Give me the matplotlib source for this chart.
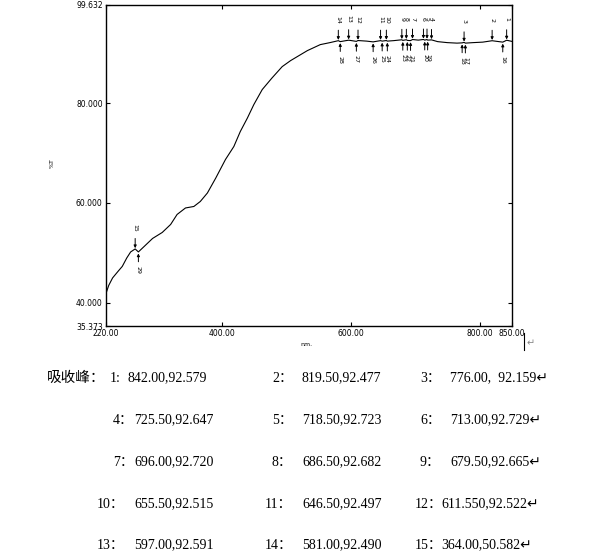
import numpy as np
import matplotlib
matplotlib.use("Agg")
import matplotlib.pyplot as plt

# spectrum (nm, %T)
wavelength = [220, 225, 231, 240, 246, 253, 259, 266, 271, 280, 293, 308, 321, 331,
              344, 357, 367, 378, 391, 406, 419, 429, 440, 450, 463, 478, 494, 507,
              520, 533, 553, 568, 581, 584, 597, 609, 611.5, 625, 635, 646.5, 649,
              655.5, 657, 667, 679.5, 681, 686.5, 688, 693, 696, 705, 713, 715,
              718.5, 719.5, 725.5, 735, 750, 765, 773, 776, 778, 790, 805, 819.5,
              830, 836, 842, 850]
transmit = [41.6, 43.5, 45.0, 46.4, 47.3, 49.0, 50.2, 50.8, 50.2, 51.3, 52.9, 54.1,
            55.7, 57.7, 59.0, 59.3, 60.3, 62.0, 65.0, 68.7, 71.3, 74.3, 77.0, 79.7,
            82.7, 85.0, 87.3, 88.5, 89.5, 90.5, 91.7, 92.1, 92.49, 92.3, 92.59, 92.35,
            92.52, 92.4, 92.25, 92.50, 92.4, 92.52, 92.4, 92.5, 92.67, 92.55, 92.68,
            92.55, 92.5, 92.72, 92.6, 92.73, 92.6, 92.72, 92.6, 92.65, 92.3, 92.1,
            92.0, 92.05, 92.16, 92.0, 92.1, 92.2, 92.48, 92.3, 92.2, 92.58, 92.35]

# marked peaks (arrow from above) and valleys (arrow from below)
peak_ids = [1, 2, 3, 4, 5, 6, 7, 8, 9, 10, 11, 12, 13, 14, 15]
peak_nm = [842, 819.5, 776, 725.5, 718.5, 713, 696, 686.5, 679.5, 655.5, 646.5,
           611.55, 597, 581, 266]
peak_t = [92.579, 92.477, 92.159, 92.647, 92.723, 92.729, 92.720, 92.682, 92.665,
          92.515, 92.497, 92.522, 92.591, 92.490, 50.8]
valley_ids = [16, 17, 18, 19, 20, 21, 22, 23, 24, 25, 26, 27, 28, 29]
valley_nm = [836, 778, 773, 719.5, 715, 693, 688, 681, 657, 649, 635, 609, 584, 271]
valley_t = [92.2, 92.0, 92.05, 92.6, 92.6, 92.5, 92.55, 92.55, 92.4, 92.4, 92.25,
            92.35, 92.3, 50.2]

x_ticks = [220, 400, 600, 800, 850]
y_ticks = [35.373, 40, 60, 80, 99.632]

# peak table below the chart: (row, label, label_x, value, value_x)
table_rows = [
    (0, "1:", 110, "842.00,92.579", 128),
    (0, "2：", 272, "819.50,92.477", 302),
    (0, "3：", 420, "776.00,  92.159↵", 450),
    (1, "4：", 113, "725.50,92.647", 134),
    (1, "5：", 272, "718.50,92.723", 302),
    (1, "6：", 420, "713.00,92.729↵", 450),
    (2, "7：", 113, "696.00,92.720", 134),
    (2, "8：", 272, "686.50,92.682", 302),
    (2, "9：", 420, "679.50,92.665↵", 450),
    (3, "10：", 97, "655.50,92.515", 134),
    (3, "11：", 265, "646.50,92.497", 302),
    (3, "12：", 415, "611.550,92.522↵", 441),
    (4, "13：", 97, "597.00,92.591", 134),
    (4, "14：", 265, "581.00,92.490", 302),
    (4, "15：", 415, "364.00,50.582↵", 441),
]
row_y = [378, 420, 462, 504, 545]

W, H = 614, 553
fig = plt.figure(figsize=(W / 100, H / 100), dpi=100)
ax = fig.add_axes([105.5 / W, 1 - 326 / H, (511.8 - 105.5) / W, (326 - 5) / H])

ax.plot(wavelength, transmit, color="black", lw=0.8)
ax.set_xlim(220, 850)
ax.set_ylim(35.373, 99.632)

ax.set_xticks(x_ticks)
ax.set_xticklabels([f"{v:.2f}" for v in x_ticks])
ax.set_yticks(y_ticks)
ax.set_yticklabels([f"{v:.3f}" for v in y_ticks])
ax.tick_params(direction="in", length=3, width=0.8, labelsize=5.5, pad=2,
               top=True, right=True, colors="black")
for s in ax.spines.values():
    s.set_linewidth(1.0)

arrow = dict(arrowstyle="-|>", lw=0.7, color="black", mutation_scale=4,
             shrinkA=0, shrinkB=0)
for i, x, y in zip(peak_ids, peak_nm, peak_t):
    ax.annotate("", xy=(x, y + 0.15), xytext=(0, 7), textcoords="offset points",
                arrowprops=arrow)
    ax.annotate(str(i), xy=(x, y), xytext=(0, 15), textcoords="offset points",
                rotation=270, ha="center", va="center", fontsize=4.5)
for i, x, y in zip(valley_ids, valley_nm, valley_t):
    ax.annotate("", xy=(x, y - 0.3), xytext=(0, -6), textcoords="offset points",
                arrowprops=arrow)
    ax.annotate(str(i), xy=(x, y), xytext=(0, -13), textcoords="offset points",
                rotation=270, ha="center", va="center", fontsize=4.5)

fig.text(52 / W, 1 - 163 / H, "%T", rotation=90, fontsize=4.5, ha="center", va="center")
fig.text(306 / W, 1 - 345 / H, "nm.", fontsize=4.5, ha="center", va="center")
fig.text(531 / W, 1 - 343 / H, "↵", fontsize=7, color="#888888", ha="center", va="center")
fig.add_artist(plt.Line2D([524 / W, 524 / W], [1 - 333 / H, 1 - 350 / H],
                          color="black", lw=0.8))

fam = ["Liberation Serif", "Noto Sans CJK SC", "DejaVu Sans"]
fig.text(47 / W, 1 - row_y[0] / H, "吸收峰：", fontsize=10.5, family=fam, va="center")
for r, lab, lx, val, vx in table_rows:
    y = 1 - row_y[r] / H
    fig.text(lx / W, y, lab, fontsize=10, family=fam, va="center")
    fig.text(vx / W, y, val, fontsize=10, family=fam, va="center")

fig.savefig("out.png", dpi=100)
